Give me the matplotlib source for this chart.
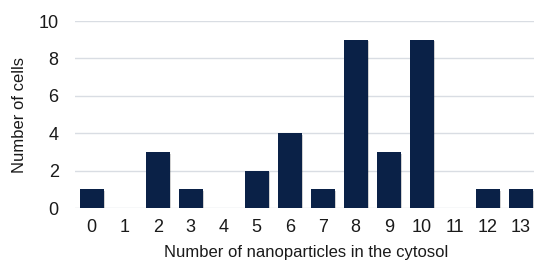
import numpy as np
import matplotlib.pyplot as plt

plt.rcParams.update({
    "font.family": "Liberation Sans",
    "font.size": 12,
})

# data
counts = [0, 1, 2, 3, 4, 5, 6, 7, 8, 9, 10, 11, 12, 13]
cells = [1, 0, 3, 1, 0, 2, 4, 1, 9, 3, 9, 0, 1, 1]
yticks = [0, 2, 4, 6, 8, 10]

BAR = "#0a2147"
TXT = "#1a1a1a"

fig = plt.figure(figsize=(5.34, 2.70), dpi=100)
ax = fig.add_axes([0.141, 0.229, 0.865, 0.693])

x = np.arange(len(counts))
# soft shadow under bars
ax.bar(x + 0.05, cells, width=0.73, color="#000000", alpha=0.18, zorder=2,
       bottom=-0.08)
ax.bar(x, cells, width=0.73, color=BAR, zorder=3)

ax.set_xlim(-0.5, 13.5)
ax.set_ylim(0, 10)
ax.set_yticks(yticks)
ax.set_xticks(x)
ax.set_xticklabels([str(c) for c in counts])
ax.yaxis.grid(True, color="#d9dde3", linewidth=1.0, zorder=0)
ax.set_axisbelow(True)
for s in ax.spines.values():
    s.set_visible(False)
ax.tick_params(length=0, labelsize=13, colors=TXT)
ax.tick_params(axis="x", pad=8)
ax.tick_params(axis="y", pad=12)

ax.set_xlabel("Number of nanoparticles in the cytosol", fontsize=12,
              color=TXT, labelpad=6)
ax.set_ylabel("Number of cells", fontsize=12, color=TXT, labelpad=8)

fig.savefig("out.png", dpi=100)
